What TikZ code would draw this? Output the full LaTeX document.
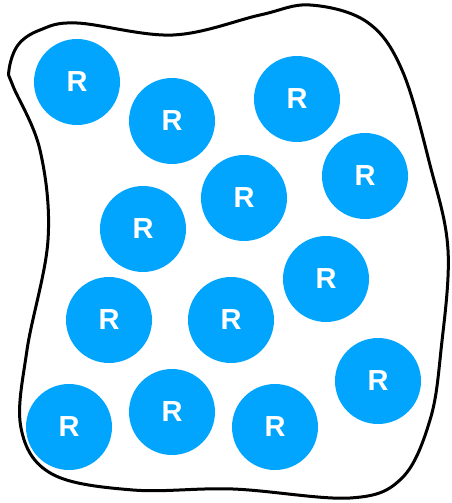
\documentclass[tikz,border=0pt]{standalone}
\usepackage{fontspec}
\setmainfont{Liberation Sans}
\definecolor{rblue}{RGB}{2,165,254}
\begin{document}
\begin{tikzpicture}[x=1pt,y=-1pt,
  rball/.style={circle,fill=rblue,minimum size=86pt,inner sep=0pt,text=white,font=\fontsize{29}{29}\selectfont\bfseries}]
\useasboundingbox (0,0) rectangle (451,503);
\draw[line width=3pt,line join=round] plot[smooth cycle,tension=0.6] coordinates {
 (9,70) (18,45) (40,30) (77,23) (173,35) (260,15) (310,5) (367,22) (402,70) (430,165) (448,250)
 (441,350) (430,420) (402,478) (350,498) (233,489) (133,490) (52,474) (21,428)
 (27,350) (48,240) (40,150) (13,86)};
\node[rball] (r1) at (77,82) {R};
\node[rball] (r2) at (172,121) {R};
\node[rball] (r3) at (297,99) {R};
\node[rball] (r4) at (365,176) {R};
\node[rball] (r5) at (244,198) {R};
\node[rball] (r6) at (143,229) {R};
\node[rball] (r7) at (326,279) {R};
\node[rball] (r8) at (109,320) {R};
\node[rball] (r9) at (231,320) {R};
\node[rball] (r10) at (378,381) {R};
\node[rball] (r11) at (172,412) {R};
\node[rball] (r12) at (69,427) {R};
\node[rball] (r13) at (275,427) {R};
\end{tikzpicture}
\end{document}
